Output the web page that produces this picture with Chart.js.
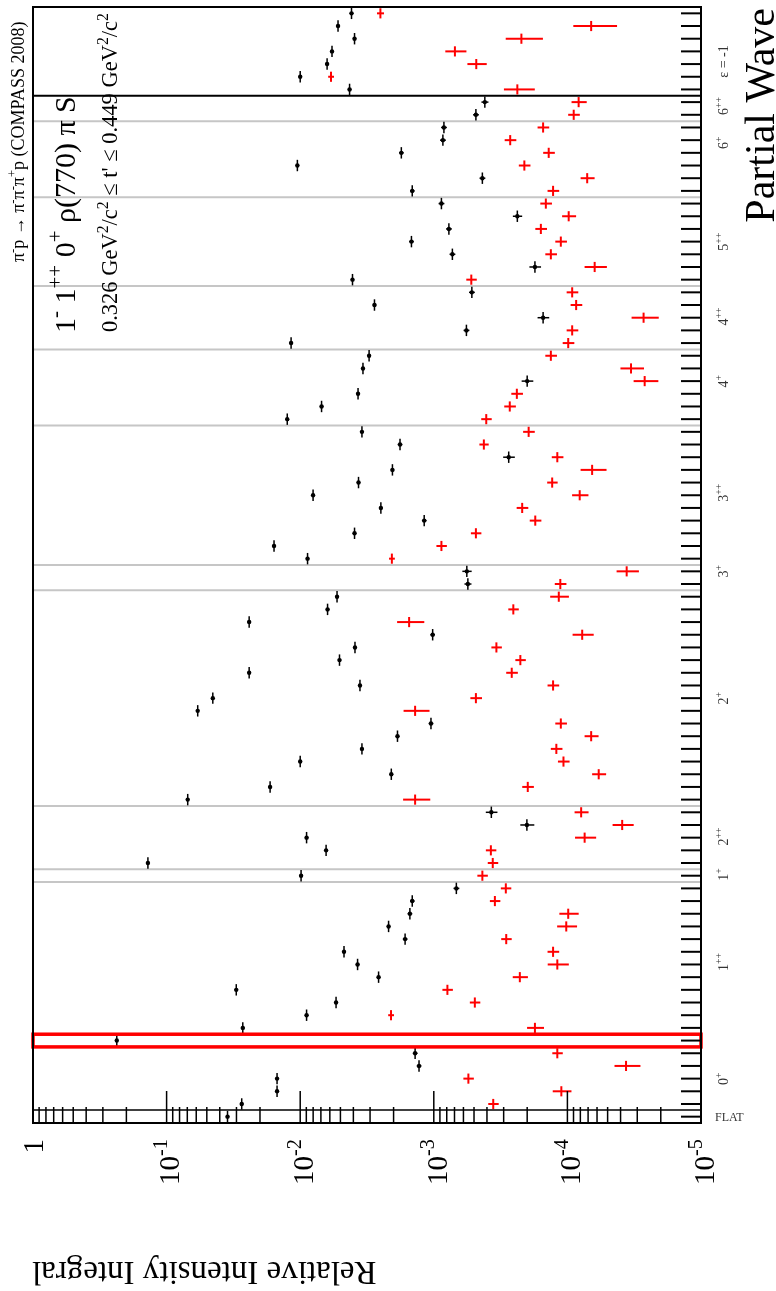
<!DOCTYPE html>
<html>
<head>
<meta charset="utf-8">
<script src="https://cdn.jsdelivr.net/npm/chart.js@4.4.1/dist/chart.umd.min.js"></script>
<style>
  html, body { margin: 0; padding: 0; background: #fff; }
  canvas { display: block; }
</style>
</head>
<body>
<canvas id="c" width="776" height="1291" style="width:776px;height:1291px"></canvas>
<script>
// Partial-wave bins, 0 = FLAT, counted upwards
const binCount = 88;

// Relative intensity integral of each wave (black)
const blackValues = [
  3.5e-2, 2.74e-2, 1.49e-2, 1.49e-2, 1.29e-3, 1.38e-3, 2.36e-1, 2.69e-2, 8.96e-3, 5.39e-3,
  3.01e-2, 2.59e-3, 3.72e-3, 4.70e-3, 1.64e-3, 2.18e-3, 1.51e-3, 1.45e-3, 6.78e-4, 9.85e-3,
  1.38e-1, 6.40e-3, 8.96e-3, 2.01e-4, 3.71e-4, 6.95e-2, 1.68e-2, 2.08e-3, 1.00e-2, 3.45e-3,
  1.87e-3, 1.05e-3, 5.85e-2, 4.51e-2, 3.57e-3, 2.41e-2, 5.08e-3, 3.89e-3, 1.02e-3, 2.41e-2,
  6.24e-3, 5.30e-3, 5.56e-4, 5.66e-4, 8.81e-3, 1.57e-2, 3.92e-3, 1.18e-3, 2.49e-3, 8.01e-3,
  3.66e-3, 2.04e-3, 2.75e-4, 1.79e-3, 3.45e-3, 1.25e-2, 6.92e-3, 3.69e-3, 2.00e-4, 3.39e-3,
  3.05e-3, 1.17e-2, 5.70e-4, 1.52e-4, 2.78e-3, 5.19e-4, 4.06e-3, 1.75e-4, 7.26e-4, 1.47e-3,
  7.71e-4, 2.37e-4, 8.77e-4, 1.45e-3, 4.33e-4, 1.05e-2, 1.75e-3, 8.55e-4, 8.40e-4, 4.84e-4,
  4.15e-4, 4.27e-3, 1.00e-2, 6.29e-3, 5.78e-3, 3.92e-3, 5.21e-3, 4.13e-3
];
// relative uncertainty of each black value
const blackRelErr = [
  0.03, 0.03, 0.03, 0.03, 0.04, 0.04, 0.02, 0.03, 0.03, 0.03,
  0.03, 0.03, 0.03, 0.03, 0.04, 0.03, 0.04, 0.04, 0.05, 0.03,
  0.02, 0.03, 0.03, 0.12, 0.10, 0.02, 0.03, 0.03, 0.03, 0.03,
  0.03, 0.04, 0.02, 0.02, 0.03, 0.03, 0.03, 0.03, 0.04, 0.03,
  0.03, 0.03, 0.06, 0.08, 0.03, 0.03, 0.03, 0.04, 0.03, 0.03,
  0.03, 0.03, 0.10, 0.04, 0.03, 0.03, 0.03, 0.03, 0.10, 0.03,
  0.03, 0.03, 0.05, 0.10, 0.03, 0.05, 0.03, 0.10, 0.05, 0.04,
  0.05, 0.08, 0.05, 0.04, 0.05, 0.03, 0.04, 0.05, 0.05, 0.05,
  0.06, 0.03, 0.03, 0.03, 0.03, 0.03, 0.03, 0.03
];

// Interference term with the 1- 1++ 0+ rho(770) pi S wave (red)
const redValues = [
  null,   3.59e-4, 1.11e-4, 5.51e-4, 3.64e-5, 1.19e-4, 1.0,     1.75e-4, 2.09e-3, 4.93e-4,
  7.91e-4, 2.27e-4, 1.19e-4, 1.28e-4, 2.87e-4, 1.02e-4, 9.86e-5, 3.49e-4, 2.89e-4, 4.33e-4,
  3.62e-4, 3.74e-4, 7.43e-5, 3.89e-5, 7.89e-5, 1.38e-3, 1.98e-4, 5.83e-5, 1.07e-4, 1.21e-4,
  6.64e-5, 1.12e-4, 1.38e-3, 4.84e-4, 1.28e-4, 2.61e-4, 2.25e-4, 3.40e-4, 7.75e-5, 1.53e-3,
  2.54e-4, 1.16e-4, 1.13e-4, 3.60e-5, 2.06e-3, 8.77e-4, 4.84e-4, 1.74e-4, 2.18e-4, 8.09e-5,
  1.30e-4, 6.53e-5, 1.19e-4, 4.22e-4, 1.95e-4, 4.05e-4, 2.70e-4, 2.39e-4, 2.64e-5, 3.34e-5,
  1.33e-4, 9.86e-5, 9.21e-5, 2.69e-5, 8.60e-5, 9.21e-5, 5.24e-4, 6.25e-5, 1.33e-4, 1.12e-4,
  1.58e-4, 9.78e-5, 1.45e-4, 1.28e-4, 7.11e-5, 2.10e-4, 1.38e-4, 2.68e-4, 1.52e-4, 8.97e-5,
  8.24e-5, 2.37e-4, 5.88e-3, 4.81e-4, 6.95e-4, 2.21e-4, 6.64e-5, 2.51e-3
];
const redRelErr = [
  0,    0.09, 0.16, 0.09, 0.22, 0.09, 0.02, 0.145, 0.05, 0.09,
  0.09, 0.13, 0.18, 0.10, 0.09, 0.17, 0.165, 0.09, 0.09, 0.09,
  0.09, 0.09, 0.18, 0.18, 0.12, 0.23, 0.10, 0.12, 0.10, 0.10,
  0.12, 0.10, 0.22, 0.10, 0.10, 0.10, 0.09, 0.09, 0.18, 0.23,
  0.09, 0.16, 0.10, 0.19, 0.05, 0.09, 0.09, 0.10, 0.10, 0.14,
  0.09, 0.22, 0.10, 0.08, 0.10, 0.09, 0.10, 0.10, 0.21, 0.20,
  0.10, 0.10, 0.10, 0.23, 0.10, 0.10, 0.09, 0.19, 0.10, 0.10,
  0.10, 0.12, 0.10, 0.10, 0.12, 0.10, 0.10, 0.10, 0.10, 0.10,
  0.13, 0.26, 0.05, 0.165, 0.18, 0.31, 0.36, 0.06
];

// Intensity axis ticks
const intensityTicks = [1, 1e-1, 1e-2, 1e-3, 1e-4, 1e-5];
const intensityTickLabels = ['1', '10^{-1}', '10^{-2}', '10^{-3}', '10^{-4}', '10^{-5}'];

// Wave group labels along the partial-wave axis (positions in bin units)
const waveGroupNames = ['0^{+}', '1^{++}', '1^{+}', '2^{++}', '2^{+}', '3^{+}', '3^{++}',
                        '4^{+}', '4^{++}', '5^{++}', '6^{+}', '6^{++}', 'ε = -1'];
const waveGroupCenters = [3, 12.2, 19.1, 22.1, 33, 43, 49.2, 58, 63.1, 69, 76.8, 79.7, 83.2];
const groupSeparators = [18.5, 19.5, 24.5, 41.5, 43.5, 54.5, 60.5, 65.5, 72.5, 78.5];
const reflectivitySeparator = 80.5;
const highlightedBin = 6;

const FONT = '"Liberation Serif", "Times New Roman", Times, serif';

// split "10^{-1}" style markup into normal / superscript pieces
function parseRich(str) {
  const segs = [];
  const re = /\^\{([^}]*)\}/g;
  let last = 0, m;
  while ((m = re.exec(str)) !== null) {
    if (m.index > last) segs.push({ t: str.slice(last, m.index), sup: false });
    segs.push({ t: m[1], sup: true });
    last = re.lastIndex;
  }
  if (last < str.length) segs.push({ t: str.slice(last), sup: false });
  return segs;
}
function richWidth(ctx, segs, size) {
  let w = 0;
  segs.forEach(s => {
    ctx.font = (s.sup ? size * 0.7 : size) + 'px ' + FONT;
    w += ctx.measureText(s.t).width;
  });
  return w;
}
function drawRich(ctx, segs, size, x0, y0) {
  let x = x0;
  ctx.textAlign = 'left';
  ctx.textBaseline = 'alphabetic';
  segs.forEach(s => {
    const fs = s.sup ? size * 0.7 : size;
    ctx.font = fs + 'px ' + FONT;
    ctx.fillText(s.t, x, s.sup ? y0 - size * 0.42 : y0);
    x += ctx.measureText(s.t).width;
  });
}
// text reading bottom-to-top; (bx, by) = baseline point, align: 'start' | 'end' | 'center'
function drawUp(ctx, str, size, bx, by, align, color) {
  const segs = parseRich(str);
  const w = richWidth(ctx, segs, size);
  ctx.save();
  ctx.fillStyle = color || '#000';
  ctx.translate(bx, by);
  ctx.rotate(-Math.PI / 2);
  const x0 = align === 'end' ? -w : align === 'center' ? -w / 2 : 0;
  drawRich(ctx, segs, size, x0, 0);
  ctx.restore();
}
function seg(ctx, x1, y1, x2, y2) {
  ctx.beginPath();
  ctx.moveTo(x1, y1);
  ctx.lineTo(x2, y2);
  ctx.stroke();
}

const framePlugin = {
  id: 'framePlugin',
  beforeDatasetsDraw(chart) {
    const { ctx, chartArea: a, scales: { x, y } } = chart;
    ctx.save();
    // wave group separators
    ctx.lineWidth = 2;
    ctx.strokeStyle = '#c6c6c6';
    groupSeparators.forEach(b => {
      const py = y.getPixelForValue(b);
      seg(ctx, a.left, py, a.right, py);
    });
    ctx.strokeStyle = '#000';
    const pr = y.getPixelForValue(reflectivitySeparator);
    seg(ctx, a.left, pr, a.right, pr);

    // red interference crosses
    ctx.strokeStyle = '#ff0000';
    ctx.lineWidth = 2;
    redValues.forEach((v, k) => {
      if (v === null) return;
      const r = redRelErr[k];
      const px = x.getPixelForValue(v);
      const py = y.getPixelForValue(k);
      seg(ctx, x.getPixelForValue(v * (1 + r)), py, x.getPixelForValue(v * (1 - r)), py);
      seg(ctx, px, y.getPixelForValue(k + 0.4), px, y.getPixelForValue(k - 0.4));
    });

    // black error bars
    ctx.strokeStyle = '#000';
    ctx.lineWidth = 1.5;
    blackValues.forEach((v, k) => {
      const r = blackRelErr[k];
      const px = x.getPixelForValue(v);
      const py = y.getPixelForValue(k);
      seg(ctx, x.getPixelForValue(v * (1 + r)), py, x.getPixelForValue(v * (1 - r)), py);
      seg(ctx, px, y.getPixelForValue(k + 0.45), px, y.getPixelForValue(k - 0.45));
    });
    ctx.restore();
  },
  afterDatasetsDraw(chart) {
    const { ctx, chartArea: a, scales: { x, y } } = chart;
    ctx.save();

    // highlighted wave
    ctx.strokeStyle = '#ff0000';
    ctx.lineWidth = 3.5;
    const hy1 = y.getPixelForValue(highlightedBin + 0.5);
    const hy2 = y.getPixelForValue(highlightedBin - 0.5);
    ctx.strokeRect(a.left, hy1, a.right - a.left, hy2 - hy1);

    // frame
    ctx.strokeStyle = '#000';
    ctx.lineWidth = 2;
    ctx.strokeRect(a.left, a.top, a.right - a.left, a.bottom - a.top);

    // partial-wave axis ticks (right side)
    for (let k = 0; k < binCount; k++) {
      const py = y.getPixelForValue(k);
      seg(ctx, a.right - 20, py, a.right, py);
    }

    // intensity axis (bottom)
    ctx.lineWidth = 1.5;
    seg(ctx, a.left, a.bottom - 13, a.right, a.bottom - 13);
    for (let e = 0; e > -5; e--) {
      for (let m = 2; m <= 9; m++) {
        const px = x.getPixelForValue(m * Math.pow(10, e - 1));
        seg(ctx, px, a.bottom - 16, px, a.bottom);
      }
    }
    intensityTicks.forEach(v => {
      const px = x.getPixelForValue(v);
      if (px > a.left + 1 && px < a.right - 1) seg(ctx, px, a.bottom - 32, px, a.bottom);
    });

    // intensity tick labels
    const ts = 29;
    intensityTicks.forEach((v, i) => {
      const lab = intensityTickLabels[i];
      const hasSup = lab.indexOf('^') >= 0;
      const half = hasSup ? (0.42 * ts + 0.7 * ts * 0.66) / 2 : 0.66 * ts / 2;
      drawUp(ctx, lab, ts, x.getPixelForValue(v) + half, a.bottom + 16, 'end');
    });

    // wave group labels
    waveGroupNames.forEach((n, i) => {
      drawUp(ctx, n, 14, a.right + 27, y.getPixelForValue(waveGroupCenters[i]), 'center', '#333');
    });
    ctx.fillStyle = '#333';
    ctx.font = '12px ' + FONT;
    ctx.textAlign = 'left';
    ctx.textBaseline = 'middle';
    ctx.fillText('FLAT', a.right + 14, y.getPixelForValue(0) + 1);

    // axis titles
    ctx.fillStyle = '#000';
    const pw = richWidth(ctx, parseRich('Partial Wave'), 42);
    drawUp(ctx, 'Partial Wave', 42, 774, a.top + 1 + pw, 'start');
    ctx.save();
    ctx.translate(a.left - 1, 1262);
    ctx.rotate(Math.PI);
    ctx.font = '33px ' + FONT;
    ctx.textAlign = 'right';
    ctx.textBaseline = 'alphabetic';
    ctx.fillText('Relative Intensity Integral', 0, 0);
    ctx.restore();

    // captions
    drawUp(ctx, 'π^{-}p → π^{-}π^{-}π^{+}p (COMPASS 2008)', 18, 24, 262, 'start');
    drawUp(ctx, '1^{-} 1^{++} 0^{+} ρ(770) π S', 30, 75, 333, 'start');
    drawUp(ctx, '0.326 GeV^{2}/c^{2} ≤ t\' ≤ 0.449 GeV^{2}/c^{2}', 22.5, 117, 332, 'start');

    ctx.restore();
  }
};

new Chart(document.getElementById('c'), {
  type: 'scatter',
  data: {
    datasets: [
      {
        label: 'intensity',
        data: blackValues.map((v, k) => ({ x: v, y: k })),
        pointRadius: 2.2,
        pointBackgroundColor: '#000',
        pointBorderWidth: 0,
        showLine: false
      },
      {
        label: 'interference',
        data: redValues.map((v, k) => ({ x: v, y: k })).filter(p => p.x !== null),
        pointRadius: 0,
        showLine: false
      }
    ]
  },
  options: {
    responsive: false,
    devicePixelRatio: 1,
    animation: false,
    layout: { padding: { left: 33, right: 75, top: 7, bottom: 168 } },
    plugins: { legend: { display: false }, tooltip: { enabled: false }, title: { display: false } },
    scales: {
      x: { type: 'logarithmic', min: 1e-5, max: 1, reverse: true, display: false },
      y: { type: 'linear', min: -0.5, max: binCount - 0.5, display: false }
    }
  },
  plugins: [framePlugin]
});
</script>
</body>
</html>
